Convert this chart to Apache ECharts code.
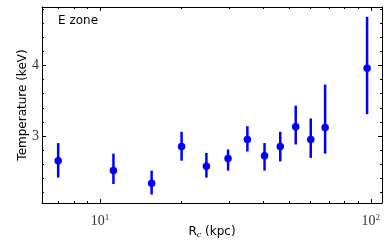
<!DOCTYPE html>
<html><head><meta charset="utf-8">
<script src="https://cdn.jsdelivr.net/npm/echarts@6/dist/echarts.min.js"></script>
<style>html,body{margin:0;padding:0;background:#fff}#c{width:390px;height:244px}</style>
</head><body><div id="c"></div>
<script>
const radius = [7.0, 11.2, 15.5, 20.0, 24.7, 29.7, 35.0, 40.5, 46.3, 52.8, 60.0, 67.8, 96.9];
const temp   = [2.65, 2.51, 2.33, 2.85, 2.57, 2.68, 2.95, 2.72, 2.85, 3.13, 2.95, 3.12, 3.96];
const errLow = [2.41, 2.32, 2.17, 2.65, 2.41, 2.51, 2.78, 2.51, 2.64, 2.88, 2.69, 2.75, 3.31];
const errHigh= [2.90, 2.75, 2.51, 3.06, 2.76, 2.81, 3.14, 2.90, 3.06, 3.43, 3.25, 3.73, 4.69];
const xMajor = [10, 100];
const xMinor = [7, 8, 9, 20, 30, 40, 50, 60, 70, 80, 90];
const yMajor = [3, 4];
const yMinor = [2.2, 2.4, 2.6, 2.8, 3.2, 3.4, 3.6, 3.8, 4.2, 4.4, 4.6, 4.8];
const xExp = {10: '1', 100: '2'};

const chart = echarts.init(document.getElementById('c'), null, {renderer: 'canvas'});
const axisLine = {show: true, lineStyle: {color: '#000', width: 1}};
function xAx(pos, major, labels) {
  return {
    type: 'log', logBase: 10, min: 6.1, max: 110, position: pos,
    axisLine: major ? axisLine : {show: false},
    axisTick: {show: true, inside: true, length: major ? 4 : 2,
      customValues: major ? xMajor : xMinor, lineStyle: {color: '#000', width: 1}},
    axisLabel: labels ? {
      show: true, customValues: xMajor, margin: 10,
      formatter: v => '{b|10}{s|' + xExp[Math.round(v)] + '}',
      rich: {
        b: {fontFamily: 'Liberation Serif', fontSize: 14, color: '#333'},
        s: {fontFamily: 'Liberation Serif', fontSize: 9, color: '#333', verticalAlign: 'top', padding: [0, 0, 8, 0]}
      }
    } : {show: false},
    splitLine: {show: false}
  };
}
function yAx(pos, major, labels) {
  return {
    type: 'value', min: 2.05, max: 4.83, position: pos,
    axisLine: major ? axisLine : {show: false},
    axisTick: {show: true, inside: true, length: major ? 4 : 2,
      customValues: major ? yMajor : yMinor, lineStyle: {color: '#000', width: 1}},
    axisLabel: labels ? {show: true, customValues: yMajor, margin: 3,
      fontFamily: 'Liberation Serif', fontSize: 14, color: '#333'} : {show: false},
    splitLine: {show: false}
  };
}
const xs = [xAx('bottom', true, true), xAx('bottom', false, false), xAx('top', true, false), xAx('top', false, false)];
xs[0].name = '{r|R}{c|c}{r| (kpc)}';
xs[0].nameLocation = 'middle';
xs[0].nameMoveOverlap = false;
xs[0].nameGap = 22;
xs[0].nameTextStyle = {rich: {
  r: {fontFamily: 'DejaVu Sans', fontSize: 12, color: '#000'},
  c: {fontFamily: 'DejaVu Serif', fontStyle: 'italic', fontSize: 8, color: '#000', verticalAlign: 'bottom', padding: [6, 0, 0, 0]}
}};
const ys = [yAx('left', true, true), yAx('left', false, false), yAx('right', true, false), yAx('right', false, false)];
ys[0].name = 'Temperature (keV)';
ys[0].nameLocation = 'middle';
ys[0].nameMoveOverlap = false;
ys[0].nameGap = 13;
ys[0].nameTextStyle = {fontFamily: 'DejaVu Sans', fontSize: 12, color: '#000'};

chart.setOption({
  animation: false,
  grid: {left: 42, right: 8, top: 7, bottom: 35, containLabel: false},
  title: {text: 'E zone', left: 53, top: 10, textStyle: {fontFamily: 'DejaVu Sans', fontSize: 12, fontWeight: 'normal', color: '#000'}},
  xAxis: xs,
  yAxis: ys,
  series: [
    {
      type: 'custom', xAxisIndex: 0, yAxisIndex: 0,
      data: radius.map((r, i) => [r, errLow[i], errHigh[i]]),
      encode: {x: 0, y: [1, 2]},
      renderItem: (params, api) => {
        const p1 = api.coord([api.value(0), api.value(1)]);
        const p2 = api.coord([api.value(0), api.value(2)]);
        return {type: 'line', shape: {x1: p1[0], y1: p1[1], x2: p2[0], y2: p2[1]},
          style: {stroke: '#0000ff', lineWidth: 2.5}};
      },
      z: 2
    },
    {
      type: 'scatter', xAxisIndex: 0, yAxisIndex: 0,
      data: radius.map((r, i) => [r, temp[i]]),
      symbol: 'circle', symbolSize: 7.5,
      itemStyle: {color: '#0000ff', opacity: 1},
      z: 3
    }
  ]
});
</script></body></html>
